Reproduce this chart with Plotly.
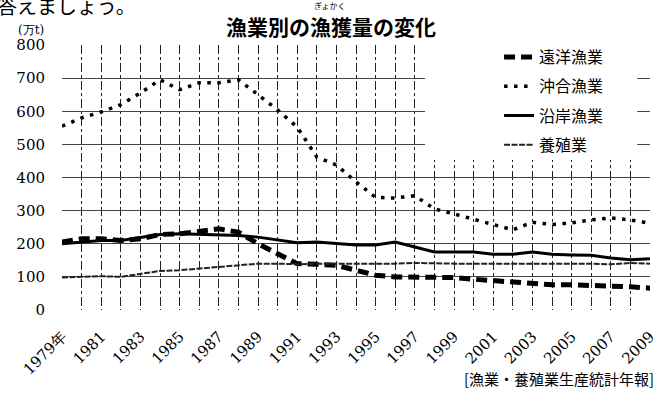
import plotly.graph_objects as go

# 年 (1979-2009)
years = list(range(1979, 2010))

# 漁業別の漁獲量（万t）
enyo = [205, 215, 215, 210, 215, 228, 230, 238, 245, 235, 200, 170, 140, 138, 135,
        120, 105, 100, 100, 98, 98, 93, 88, 85, 80, 76, 76, 75, 72, 70, 66]
okiai = [555, 580, 598, 620, 655, 695, 665, 686, 686, 695, 650, 604, 552, 462, 438,
         387, 340, 338, 345, 305, 290, 273, 258, 242, 265, 258, 263, 272, 278, 272, 262]
engan = [200, 205, 210, 210, 218, 228, 230, 228, 227, 225, 220, 212, 203, 205, 200,
         196, 196, 205, 190, 175, 175, 175, 168, 168, 175, 168, 166, 165, 157, 152, 155]
yoshoku = [98, 100, 102, 100, 110, 118, 120, 125, 128, 135, 140, 140, 138, 140, 140,
           138, 138, 140, 142, 140, 140, 140, 140, 140, 140, 142, 140, 140, 138, 142, 140]

# 目盛り
x_tickvals = list(range(1979, 2010, 2))
x_ticktext = ["1979年"] + [str(y) for y in range(1981, 2010, 2)]
y_tickvals = list(range(0, 801, 100))

W, H = 667, 398
L, R, T, B = 62, 9, 45, 88
PW, PH = W - L - R, H - T - B


def px_x(x):
    return (x - L) / PW


def px_y(y):
    return (H - B - y) / PH


JP = "Noto Sans CJK JP"
SERIF = "DejaVu Serif"

fig = go.Figure()
fig.add_trace(go.Scatter(x=years, y=enyo, name="遠洋漁業", mode="lines", legendgroup="a",
                         line=dict(color="black", width=5, dash="11px,6px")))
fig.add_trace(go.Scatter(x=years, y=okiai, name="沖合漁業", mode="lines", legendgroup="b",
                         line=dict(color="black", width=3.5, dash="3.5px,6.5px")))
fig.add_trace(go.Scatter(x=years, y=engan, name="沿岸漁業", mode="lines", legendgroup="c",
                         line=dict(color="black", width=3)))
fig.add_trace(go.Scatter(x=years, y=yoshoku, name="養殖業", mode="lines", legendgroup="d",
                         line=dict(color="#222", width=2, dash="6px,1.5px")))

GRID = dict(showgrid=True, gridcolor="#222", gridwidth=1, griddash="dashdot")
fig.update_xaxes(
    range=[1979, 2009], tickmode="array", tickvals=x_tickvals, ticktext=x_ticktext,
    tickangle=-45, ticklabelstandoff=14,
    tickfont=dict(family=SERIF, size=15, color="black"),
    minor=dict(dtick=1, tick0=1979, **GRID),
    zeroline=False, showline=False, ticks="", **GRID,
)
fig.update_yaxes(
    range=[0, 800], tickmode="array", tickvals=y_tickvals,
    ticklabelstandoff=16,
    tickfont=dict(family=SERIF, size=15, color="black"),
    zeroline=False, showline=False, ticks="",
    showgrid=True, gridcolor="#444", gridwidth=1,
)

# 凡例の背景
fig.add_shape(type="rect", xref="paper", yref="paper",
              x0=px_x(430), x1=px_x(645), y0=px_y(160), y1=px_y(43),
              fillcolor="white", line=dict(width=0), layer="above")

annotations = [
    dict(text="漁業別の漁獲量の変化", x=px_x(335), y=px_y(26),
         font=dict(family=JP, size=21, color="black", weight="bold")),
    dict(text="ぎょかく", x=px_x(334), y=px_y(5),
         font=dict(family=JP, size=8, color="black")),
    dict(text="答えましょう。", x=px_x(-6), y=px_y(5), xanchor="left",
         font=dict(family=JP, size=20, color="black")),
    dict(text="(万t)", x=px_x(31), y=px_y(30),
         font=dict(family=SERIF, size=12, color="black")),
    dict(text="[漁業・養殖業生産統計年報]", x=px_x(664), y=px_y(378), xanchor="right",
         font=dict(family=JP, size=15, color="black")),
]
for a in annotations:
    a.setdefault("xanchor", "center")
    fig.add_annotation(xref="paper", yref="paper", yanchor="middle", showarrow=False, **a)

fig.update_layout(
    width=W, height=H,
    margin=dict(l=L, r=R, t=T, b=B),
    paper_bgcolor="white", plot_bgcolor="white",
    showlegend=True,
    legend=dict(x=px_x(505), y=px_y(40), xanchor="left", yanchor="top",
                bgcolor="rgba(0,0,0,0)", traceorder="grouped", tracegroupgap=5.5,
                font=dict(family=JP, size=16, color="black")),
)

fig.write_html("out.html")
